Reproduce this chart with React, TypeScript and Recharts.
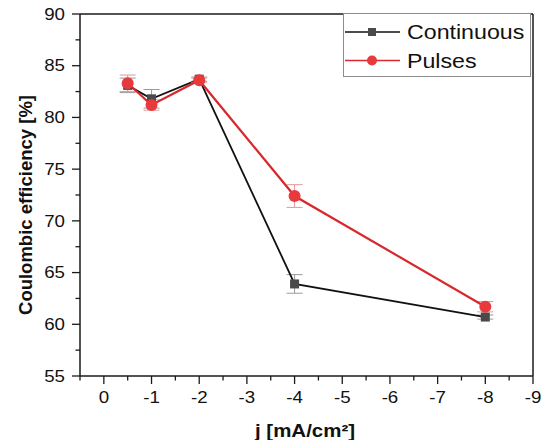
import { LineChart, Line, XAxis, YAxis, ErrorBar, Legend, Label, ReferenceLine } from 'recharts';

// j values in mA/cm², negative = cathodic
const currents = [-0.5, -1, -2, -4, -8];
const continuous = [83.1, 81.8, 83.7, 63.9, 60.7];
const continuousErr = [0.7, 0.9, 0.2, 0.9, 0.2];
const pulses = [83.3, 81.2, 83.6, 72.4, 61.7];
const pulsesErr = [0.8, 0.5, 0.2, 1.1, 0.5];

const xTicks = [0.5, 0, -0.5, -1, -1.5, -2, -2.5, -3, -3.5, -4, -4.5, -5, -5.5, -6, -6.5, -7, -7.5, -8, -8.5, -9];
const yTicks = [55, 57.5, 60, 62.5, 65, 67.5, 70, 72.5, 75, 77.5, 80, 82.5, 85, 87.5, 90];

const data = currents.map((j, i) => ({
  j,
  continuous: continuous[i],
  continuousErr: continuousErr[i],
  pulses: pulses[i],
  pulsesErr: pulsesErr[i],
}));

const font = '"Liberation Sans", Arial, sans-serif';
const axisColor = '#1a1a1a';
const red = '#d9282d';
const redDot = '#e8393d';
const grayDot = '#4a4a4a';
const stretch = 1.17; // the source image is a bit wider than tall

function XTick(props: any) {
  const { x, y, payload } = props;
  const v = payload.value;
  const major = Number.isInteger(v);
  return (
    <g>
      <line x1={x} x2={x} y1={y} y2={y + (major ? 8 : 4.5)} stroke={axisColor} strokeWidth={1.3} />
      {major && (
        <text
          transform={`translate(${x},${y + 27}) scale(${stretch},1)`}
          textAnchor="middle"
          fontSize={16}
          fontFamily={font}
          fill="#111"
        >
          {String(v)}
        </text>
      )}
    </g>
  );
}

function YTick(props: any) {
  const { x, y, payload } = props;
  const v = payload.value;
  const major = v % 5 === 0;
  return (
    <g>
      <line x1={x - (major ? 8 : 4.5)} x2={x} y1={y} y2={y} stroke={axisColor} strokeWidth={1.3} />
      {major && (
        <text
          transform={`translate(${x - 15},${y}) scale(${stretch},1)`}
          textAnchor="end"
          dy="0.36em"
          fontSize={16}
          fontFamily={font}
          fill="#111"
        >
          {v}
        </text>
      )}
    </g>
  );
}

function SquareDot(props: any) {
  const { cx, cy } = props;
  if (cx == null || cy == null) return null;
  return <rect x={cx - 4.5} y={cy - 4.5} width={9} height={9} fill={grayDot} />;
}

function RoundDot(props: any) {
  const { cx, cy } = props;
  if (cx == null || cy == null) return null;
  return <circle cx={cx} cy={cy} r={6} fill={redDot} />;
}

function XTitle() {
  return (
    <text
      transform={`translate(305,437) scale(${stretch},1)`}
      textAnchor="middle"
      fontSize={17.5}
      fontWeight="bold"
      fontFamily={font}
      fill="#111"
    >
      j [mA/cm²]
    </text>
  );
}

function YTitle() {
  return (
    <text
      transform="translate(32,205) rotate(-90)"
      textAnchor="middle"
      fontSize={18.5}
      fontWeight="bold"
      fontFamily={font}
      fill="#111"
    >
      Coulombic efficiency [%]
    </text>
  );
}

function LegendBox() {
  const txt = (y: number, label: string) => (
    <text
      transform={`translate(64,${y}) scale(1.16,1)`}
      fontSize={20}
      fontFamily={font}
      fill="#111"
    >
      {label}
    </text>
  );
  return (
    <svg width={188} height={64} style={{ display: 'block' }}>
      <rect x={0.5} y={0.5} width={187} height={63} fill="#fff" stroke="#8c8c8c" />
      <line x1={2} x2={57} y1={19} y2={19} stroke="#111" strokeWidth={1.5} />
      <rect x={25} y={15} width={8} height={8} fill={grayDot} />
      {txt(26, 'Continuous')}
      <line x1={2} x2={57} y1={47.5} y2={47.5} stroke={red} strokeWidth={1.5} />
      <circle cx={29} cy={47.5} r={5} fill={redDot} />
      {txt(54.5, 'Pulses')}
    </svg>
  );
}

export default function App() {
  return (
    <div style={{ position: 'absolute', left: 0, top: 0, background: '#fff' }}>
      <LineChart width={541} height={440} data={data} margin={{ top: 14, right: 8, bottom: 0, left: 0 }}>
        <XAxis
          dataKey="j"
          type="number"
          domain={[-9, 0.5]}
          reversed
          ticks={xTicks}
          interval={0}
          tick={<XTick />}
          tickLine={false}
          tickSize={0}
          tickMargin={0}
          height={64}
          axisLine={{ stroke: axisColor, strokeWidth: 1.5 }}
        >
          <Label content={<XTitle />} />
        </XAxis>
        <YAxis
          type="number"
          domain={[55, 90]}
          ticks={yTicks}
          interval={0}
          tick={<YTick />}
          tickLine={false}
          tickSize={0}
          tickMargin={0}
          width={80}
          axisLine={{ stroke: axisColor, strokeWidth: 1.5 }}
        >
          <Label content={<YTitle />} />
        </YAxis>
        {/* top and right frame of the plot box */}
        <ReferenceLine y={90} stroke={axisColor} strokeWidth={1.5} />
        <ReferenceLine x={-9} stroke={axisColor} strokeWidth={1.5} />
        <Legend
          layout="horizontal"
          verticalAlign="middle"
          align="center"
          content={<LegendBox />}
          wrapperStyle={{ left: 343, top: 13, width: 188, height: 64 }}
        />
        <Line
          name="Continuous"
          dataKey="continuous"
          stroke="#111"
          strokeWidth={1.8}
          dot={<SquareDot />}
          activeDot={false}
          isAnimationActive={false}
        >
          <ErrorBar dataKey="continuousErr" direction="y" width={8} stroke="#9a9a9a" strokeWidth={1} />
        </Line>
        <Line
          name="Pulses"
          dataKey="pulses"
          stroke={red}
          strokeWidth={2.2}
          dot={<RoundDot />}
          activeDot={false}
          isAnimationActive={false}
        >
          <ErrorBar dataKey="pulsesErr" direction="y" width={8} stroke="#e39a9a" strokeWidth={1} />
        </Line>
      </LineChart>
    </div>
  );
}
